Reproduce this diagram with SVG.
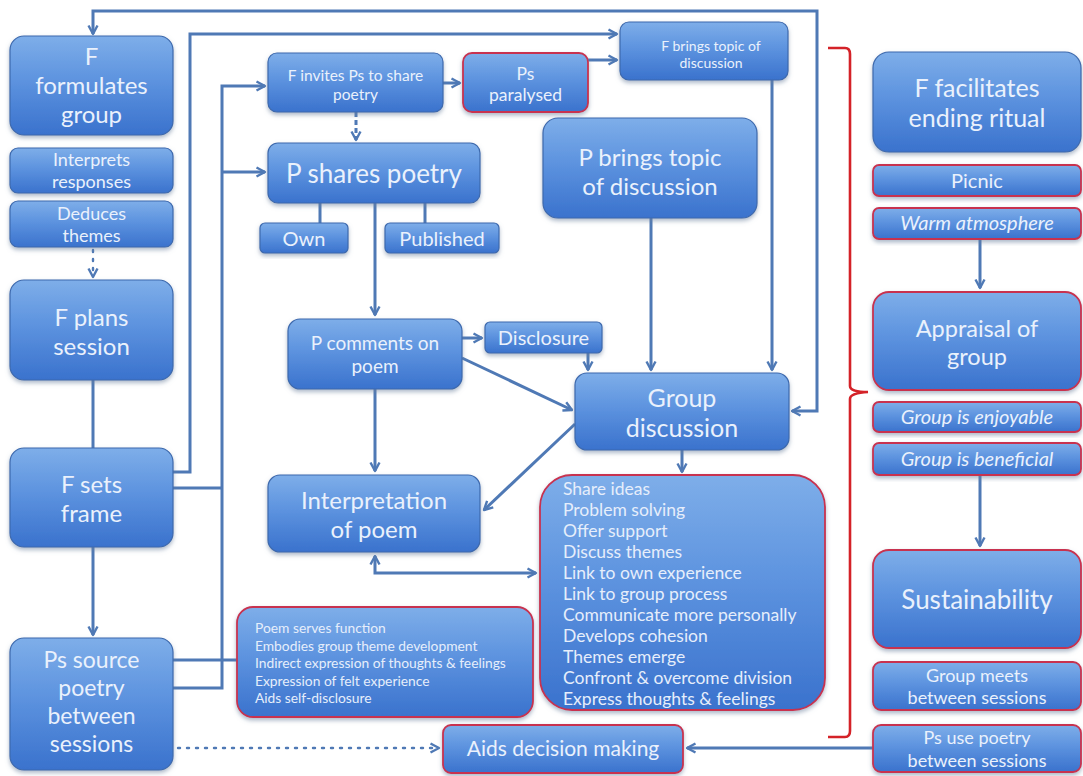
<svg xmlns="http://www.w3.org/2000/svg" width="1083" height="776" viewBox="0 0 1083 776">
  <defs>
    <linearGradient id="boxFill" x1="0" y1="0" x2="0" y2="1">
      <stop offset="0" stop-color="#7eaee9"/>
      <stop offset="0.45" stop-color="#5d93df"/>
      <stop offset="1" stop-color="#3a72cd"/>
    </linearGradient>
    <filter id="shadow" x="-10%" y="-10%" width="120%" height="130%">
      <feDropShadow dx="0" dy="2.5" stdDeviation="2" flood-color="#6a7f9c" flood-opacity="0.55"/>
    </filter>
    <marker id="arr" viewBox="0 0 12 12" refX="10.5" refY="6" markerWidth="12" markerHeight="12" orient="auto-start-reverse" markerUnits="userSpaceOnUse">
      <path d="M2,1.5 L10.5,6 L2,10.5" fill="none" stroke="#4f79b5" stroke-width="2.4" stroke-linejoin="round"/>
    </marker>
    <style>
      .box { fill: url(#boxFill); stroke: #3d69ad; stroke-width: 1.2; filter: url(#shadow); }
      .red { stroke: #c8324f; stroke-width: 1.8; }
      .t { font-family: "Lato", "Open Sans", sans-serif; fill: #eaf1fc; text-anchor: middle; }
      .l { font-family: "Lato", "Open Sans", sans-serif; fill: #e6eefb; text-anchor: start; }
      .big { font-size: 24px; }
      .mid { font-size: 18px; }
      .one { font-size: 20px; }
      .it { font-style: italic; }
      .c { fill: none; stroke: #4f79b5; stroke-width: 3; }
      .dot { stroke-dasharray: 2 7; stroke-linecap: round; stroke-width: 2.4; }
      .dash { stroke-dasharray: 5 3; }
      .brace { fill: none; stroke: #d42228; stroke-width: 2.6; }
    </style>
  </defs>
  <rect width="1083" height="776" fill="#ffffff"/>

  <!-- connectors -->
  <g id="connectors">
    <!-- feedback loop over the top -->
    <path class="c" d="M792,411 H817 V11 H93 V34" marker-start="url(#arr)" marker-end="url(#arr)"/>
    <!-- frame to facilitator topic -->
    <path class="c" d="M173,472 H190 V34 H617" marker-end="url(#arr)"/>
    <!-- session spine -->
    <path class="c" d="M173,688 H222 V86 H265" marker-end="url(#arr)"/>
    <path class="c" d="M222,172 H265" marker-end="url(#arr)"/>
    <path class="c" d="M173,488 H222"/>
    <path class="c" d="M173,660 H237"/>
    <!-- left column -->
    <path class="c dot" d="M93,250 V277" marker-end="url(#arr)"/>
    <path class="c" d="M93,380 V448"/>
    <path class="c" d="M93,547 V635" marker-end="url(#arr)"/>
    <!-- invitation branch -->
    <path class="c" d="M443,83 H460" marker-end="url(#arr)"/>
    <path class="c" d="M588,60 H617" marker-end="url(#arr)"/>
    <path class="c dash" d="M356,112 V140" marker-end="url(#arr)"/>
    <!-- poetry sources -->
    <path class="c" d="M320,203 V223"/>
    <path class="c" d="M425,203 V223"/>
    <path class="c" d="M375,203 V315" marker-end="url(#arr)"/>
    <!-- comments -->
    <path class="c" d="M462,338 H482" marker-end="url(#arr)"/>
    <path class="c" d="M588,353 V370" marker-end="url(#arr)"/>
    <path class="c" d="M462,358 L572,410" marker-end="url(#arr)"/>
    <path class="c" d="M575,424 L484,510" marker-end="url(#arr)"/>
    <path class="c" d="M375,389 V471" marker-end="url(#arr)"/>
    <!-- topics into discussion -->
    <path class="c" d="M651,218 V370" marker-end="url(#arr)"/>
    <path class="c" d="M772,80 V370" marker-end="url(#arr)"/>
    <path class="c" d="M682,450 V472" marker-end="url(#arr)"/>
    <!-- interpretation and outcomes -->
    <path class="c" d="M375,556 V573 H536" marker-start="url(#arr)" marker-end="url(#arr)"/>
    <!-- decision making -->
    <path class="c dot" d="M178,748 H439" marker-end="url(#arr)"/>
    <path class="c" d="M873,748 H687" marker-end="url(#arr)"/>
    <!-- right column -->
    <path class="c" d="M980,239 V288" marker-end="url(#arr)"/>
    <path class="c" d="M980,475 V546" marker-end="url(#arr)"/>
  </g>

  <!-- brace grouping the middle of the flow -->
  <path class="brace" d="M828,48 H845 Q850,48 850,54 V386 Q850,392 868,392 Q850,393 850,399 V731 Q850,737 845,737 H828"/>

  <!-- left column -->
  <g id="f-formulates">
    <rect class="box" x="10" y="36" width="163" height="99" rx="14"/>
    <text class="t big" x="91.5" y="65">F</text>
    <text class="t big" x="91.5" y="94">formulates</text>
    <text class="t big" x="91.5" y="123">group</text>
  </g>
  <g id="interprets">
    <rect class="box" x="10" y="148" width="163" height="45" rx="8"/>
    <text class="t mid" x="91.5" y="166">Interprets</text>
    <text class="t mid" x="91.5" y="188">responses</text>
  </g>
  <g id="deduces">
    <rect class="box" x="10" y="201" width="163" height="46" rx="8"/>
    <text class="t mid" x="91.5" y="220">Deduces</text>
    <text class="t mid" x="91.5" y="242">themes</text>
  </g>
  <g id="f-plans">
    <rect class="box" x="10" y="280" width="163" height="100" rx="14"/>
    <text class="t big" x="91.5" y="326">F plans</text>
    <text class="t big" x="91.5" y="355">session</text>
  </g>
  <g id="f-sets">
    <rect class="box" x="10" y="448" width="163" height="99" rx="14"/>
    <text class="t big" x="91.5" y="493">F sets</text>
    <text class="t big" x="91.5" y="522">frame</text>
  </g>
  <g id="ps-source">
    <rect class="box" x="10" y="638" width="163" height="132" rx="14"/>
    <text class="t" style="font-size:23px" x="91.5" y="668">Ps source</text>
    <text class="t" style="font-size:23px" x="91.5" y="696">poetry</text>
    <text class="t" style="font-size:23px" x="91.5" y="724">between</text>
    <text class="t" style="font-size:23px" x="91.5" y="752">sessions</text>
  </g>

  <!-- middle -->
  <g id="f-invites">
    <rect class="box" x="268" y="53" width="175" height="59" rx="9"/>
    <text class="t" style="font-size:15.5px" x="355.5" y="81">F invites Ps to share</text>
    <text class="t" style="font-size:15.5px" x="355.5" y="100">poetry</text>
  </g>
  <g id="ps-paralysed">
    <rect class="box red" x="463" y="53" width="125" height="59" rx="9"/>
    <text class="t" style="font-size:17.5px" x="525.5" y="80">Ps</text>
    <text class="t" style="font-size:17.5px" x="525.5" y="101">paralysed</text>
  </g>
  <g id="f-brings">
    <rect class="box" x="620" y="22" width="168" height="58" rx="9"/>
    <text class="t" style="font-size:14px" x="711" y="51">F brings topic of</text>
    <text class="t" style="font-size:14px" x="711" y="68">discussion</text>
  </g>
  <g id="p-shares">
    <rect class="box" x="268" y="143" width="212" height="60" rx="10"/>
    <text class="t" style="font-size:26px" x="374" y="183">P shares poetry</text>
  </g>
  <g id="own">
    <rect class="box" x="260" y="223" width="88" height="30" rx="5"/>
    <text class="t one" x="304" y="246">Own</text>
  </g>
  <g id="published">
    <rect class="box" x="385" y="223" width="114" height="30" rx="5"/>
    <text class="t one" x="442" y="246">Published</text>
  </g>
  <g id="p-brings">
    <rect class="box" x="543" y="118" width="214" height="100" rx="15"/>
    <text class="t" style="font-size:24px" x="650" y="166">P brings topic</text>
    <text class="t" style="font-size:24px" x="650" y="195">of discussion</text>
  </g>
  <g id="p-comments">
    <rect class="box" x="288" y="319" width="174" height="70" rx="12"/>
    <text class="t" style="font-size:19px" x="375" y="350">P comments on</text>
    <text class="t" style="font-size:19px" x="375" y="373">poem</text>
  </g>
  <g id="disclosure">
    <rect class="box" x="485" y="322" width="117" height="31" rx="5"/>
    <text class="t one" x="543.5" y="345">Disclosure</text>
  </g>
  <g id="interpretation">
    <rect class="box" x="268" y="475" width="212" height="77" rx="12"/>
    <text class="t" style="font-size:24px" x="374" y="509">Interpretation</text>
    <text class="t" style="font-size:24px" x="374" y="538">of poem</text>
  </g>
  <g id="group-discussion">
    <rect class="box" x="575" y="373" width="214" height="77" rx="12"/>
    <text class="t" style="font-size:25px" x="682" y="407">Group</text>
    <text class="t" style="font-size:25px" x="682" y="437">discussion</text>
  </g>
  <g id="outcomes">
    <rect class="box red" x="540" y="475" width="285" height="235" rx="32"/>
    <text class="l" style="font-size:17.5px" x="563">
      <tspan x="563" y="495">Share ideas</tspan>
      <tspan x="563" y="516">Problem solving</tspan>
      <tspan x="563" y="537">Offer support</tspan>
      <tspan x="563" y="558">Discuss themes</tspan>
      <tspan x="563" y="579">Link to own experience</tspan>
      <tspan x="563" y="600">Link to group process</tspan>
      <tspan x="563" y="621">Communicate more personally</tspan>
      <tspan x="563" y="642">Develops cohesion</tspan>
      <tspan x="563" y="663">Themes emerge</tspan>
      <tspan x="563" y="684">Confront &amp; overcome division</tspan>
      <tspan x="563" y="705">Express thoughts &amp; feelings</tspan>
    </text>
  </g>
  <g id="poem-function">
    <rect class="box red" x="237" y="607" width="296" height="110" rx="16"/>
    <text class="l" style="font-size:13.8px" x="255">
      <tspan x="255" y="633">Poem serves function</tspan>
      <tspan x="255" y="651">Embodies group theme development</tspan>
      <tspan x="255" y="668">Indirect expression of thoughts &amp; feelings</tspan>
      <tspan x="255" y="686">Expression of felt experience</tspan>
      <tspan x="255" y="703">Aids self-disclosure</tspan>
    </text>
  </g>
  <g id="aids-decision">
    <rect class="box red" x="443" y="725" width="240" height="48" rx="8"/>
    <text class="t" style="font-size:21px" x="563" y="756">Aids decision making</text>
  </g>

  <!-- right column -->
  <g id="f-ending">
    <rect class="box" x="873" y="52" width="208" height="100" rx="16"/>
    <text class="t" style="font-size:25px" x="977" y="97">F facilitates</text>
    <text class="t" style="font-size:25px" x="977" y="127">ending ritual</text>
  </g>
  <g id="picnic">
    <rect class="box red" x="873" y="165" width="208" height="31" rx="6"/>
    <text class="t one" x="977" y="188">Picnic</text>
  </g>
  <g id="warm">
    <rect class="box red" x="873" y="208" width="208" height="31" rx="6"/>
    <text class="t one it" x="977" y="230">Warm atmosphere</text>
  </g>
  <g id="appraisal">
    <rect class="box red" x="873" y="292" width="208" height="98" rx="16"/>
    <text class="t" style="font-size:23.5px" x="977" y="337">Appraisal of</text>
    <text class="t" style="font-size:23.5px" x="977" y="365">group</text>
  </g>
  <g id="enjoyable">
    <rect class="box red" x="873" y="402" width="208" height="30" rx="6"/>
    <text class="t one it" x="977" y="424">Group is enjoyable</text>
  </g>
  <g id="beneficial">
    <rect class="box red" x="873" y="443" width="208" height="32" rx="6"/>
    <text class="t one it" x="977" y="466">Group is beneficial</text>
  </g>
  <g id="sustainability">
    <rect class="box red" x="873" y="550" width="208" height="98" rx="16"/>
    <text class="t" style="font-size:26px" x="977" y="609">Sustainability</text>
  </g>
  <g id="group-meets">
    <rect class="box red" x="873" y="662" width="208" height="48" rx="8"/>
    <text class="t mid" x="977" y="682">Group meets</text>
    <text class="t mid" x="977" y="704">between sessions</text>
  </g>
  <g id="ps-use">
    <rect class="box red" x="873" y="725" width="208" height="47" rx="8"/>
    <text class="t mid" x="977" y="744">Ps use poetry</text>
    <text class="t mid" x="977" y="767">between sessions</text>
  </g>
</svg>
